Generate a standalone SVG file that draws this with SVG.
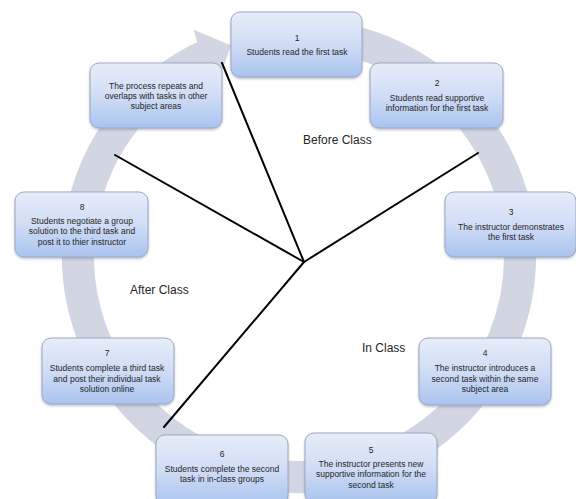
<svg xmlns="http://www.w3.org/2000/svg" width="576" height="499" viewBox="0 0 576 499">
<defs>
<linearGradient id="bg" x1="0" y1="0" x2="0" y2="1">
<stop offset="0" stop-color="#e6edf9"/>
<stop offset="0.5" stop-color="#d0ddf5"/>
<stop offset="1" stop-color="#a9c3ef"/>
</linearGradient>
<filter id="sh" x="-10%" y="-10%" width="125%" height="130%">
<feDropShadow dx="0" dy="1.5" stdDeviation="1.2" flood-color="#6b7690" flood-opacity="0.45"/>
</filter>
</defs>
<style>
.box{fill:url(#bg);stroke:#9ea9c2;stroke-width:1;filter:url(#sh)}
.t{font-family:"Liberation Sans",Arial,sans-serif;font-size:8.5px;fill:#262626;text-anchor:middle}
.lab{font-family:"Liberation Sans",Arial,sans-serif;font-size:12px;fill:#262626}
.ring{fill:none;stroke:#d2d6e2;stroke-width:32}
.conn{stroke:#000;stroke-width:2;fill:none;stroke-linecap:round}
</style>
<rect width="576" height="499" fill="#fff"/>
<g id="cycle-arrow">
<path class="ring" d="M 299 35 A 221 221 0 1 1 205.6 55.7"/>
<polygon points="193.3,29.4 231,45.5 217.9,82 203,60" fill="#d2d6e2"/>
</g>
<g id="connectors">
<line class="conn" x1="304" y1="262" x2="222" y2="63"/>
<line class="conn" x1="304" y1="262" x2="478" y2="153"/>
<line class="conn" x1="304" y1="262" x2="115" y2="155"/>
<line class="conn" x1="304" y1="262" x2="164" y2="427"/>
</g>
<g id="labels">
<text class="lab" x="303" y="144">Before Class</text>
<text class="lab" x="130" y="294">After Class</text>
<text class="lab" x="362" y="352">In Class</text>
</g>
<g id="node1">
<rect class="box" x="231" y="12" width="131" height="65" rx="9"/>
<text class="t" x="297" y="41">1</text>
<text class="t" x="297" y="55">Students read the first task</text>
</g>
<g id="node2">
<rect class="box" x="370" y="63" width="133" height="65" rx="9"/>
<text class="t" x="437" y="86">2</text>
<text class="t" x="437" y="101">Students read supportive</text>
<text class="t" x="437" y="111">information for the first task</text>
</g>
<g id="node3">
<rect class="box" x="445" y="192" width="131" height="65" rx="9"/>
<text class="t" x="511" y="215">3</text>
<text class="t" x="511" y="230">The instructor demonstrates</text>
<text class="t" x="511" y="240">the first task</text>
</g>
<g id="node4">
<rect class="box" x="419" y="338" width="132" height="67" rx="9"/>
<text class="t" x="485" y="356">4</text>
<text class="t" x="485" y="371">The instructor introduces  a</text>
<text class="t" x="485" y="382">second task within the same</text>
<text class="t" x="485" y="392">subject area</text>
</g>
<g id="node5">
<rect class="box" x="305" y="433" width="132" height="70" rx="9"/>
<text class="t" x="371" y="453">5</text>
<text class="t" x="371" y="467">The instructor presents new</text>
<text class="t" x="371" y="477">supportive information for the</text>
<text class="t" x="371" y="488">second task</text>
</g>
<g id="node6">
<rect class="box" x="156" y="435" width="132" height="70" rx="9"/>
<text class="t" x="222" y="457">6</text>
<text class="t" x="222" y="472">Students complete the second</text>
<text class="t" x="222" y="482">task in in-class groups</text>
</g>
<g id="node7">
<rect class="box" x="42" y="338" width="132" height="66" rx="9"/>
<text class="t" x="107" y="356">7</text>
<text class="t" x="107" y="371">Students complete a third task</text>
<text class="t" x="107" y="382">and post their individual task</text>
<text class="t" x="107" y="392">solution online</text>
</g>
<g id="node8">
<rect class="box" x="15" y="192" width="133" height="65" rx="9"/>
<text class="t" x="82" y="210">8</text>
<text class="t" x="82" y="224">Students negotiate a group</text>
<text class="t" x="82" y="234">solution to the third task and</text>
<text class="t" x="82" y="245">post it to thier instructor</text>
</g>
<g id="node9">
<rect class="box" x="90" y="63" width="132" height="65" rx="9"/>
<text class="t" x="156" y="89">The process repeats and</text>
<text class="t" x="156" y="99">overlaps with tasks in other</text>
<text class="t" x="156" y="109">subject areas</text>
</g>
</svg>
